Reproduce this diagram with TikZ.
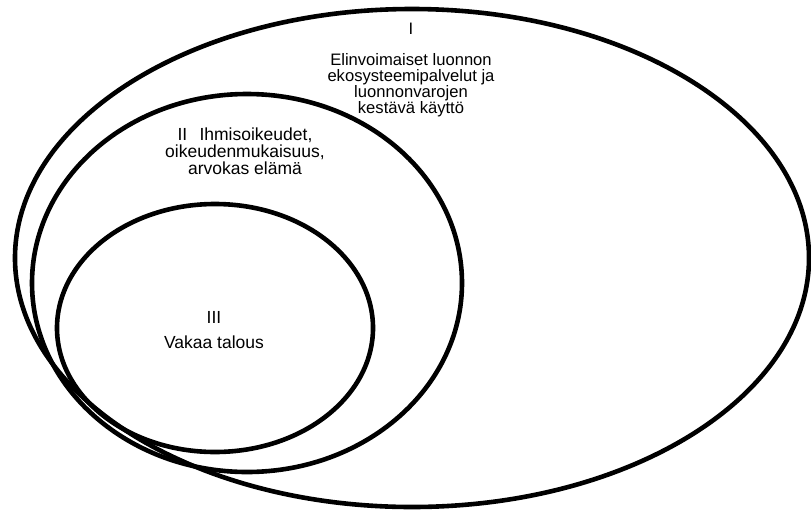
\documentclass[tikz,border=0pt]{standalone}
\usepackage{fontspec}
\setmainfont{Liberation Sans}
\AtBeginDocument{\lineskiplimit=-30pt\relax}
\tikzset{
	ring/.style={draw=black, line width=4.6pt},
	lbl/.style n args={2}{
			align=center, inner sep=0pt, anchor=north,
			font={\fontsize{#1}{#2}\selectfont}
		}
}

\begin{document}
\begin{tikzpicture}[x=1pt, y=-1pt]
			\useasboundingbox (0,0) rectangle (811,512);
			% nested sets
			\draw[ring] (412,258) ellipse [x radius=397pt, y radius=249pt];
			\draw[ring] (247,283) ellipse [x radius=215pt, y radius=189pt];
			\draw[ring] (215,328) ellipse [x radius=158pt, y radius=124pt];

			\node[lbl={16.6}{16}] (luonto) at (411,23) {I\\[15pt]Elinvoimaiset luonnon\\ekosysteemipalvelut ja\\luonnonvarojen\\kestävä käyttö};
			\node[lbl={17.5}{16.6}] (ihminen) at (245,128) {II\hspace{0.7em}Ihmisoikeudet,\\oikeudenmukaisuus,\\arvokas elämä};
			\node[lbl={17.5}{15.5}] (talous) at (214,311) {III\\[9.5pt]Vakaa talous};
		\end{tikzpicture}
\end{document}
